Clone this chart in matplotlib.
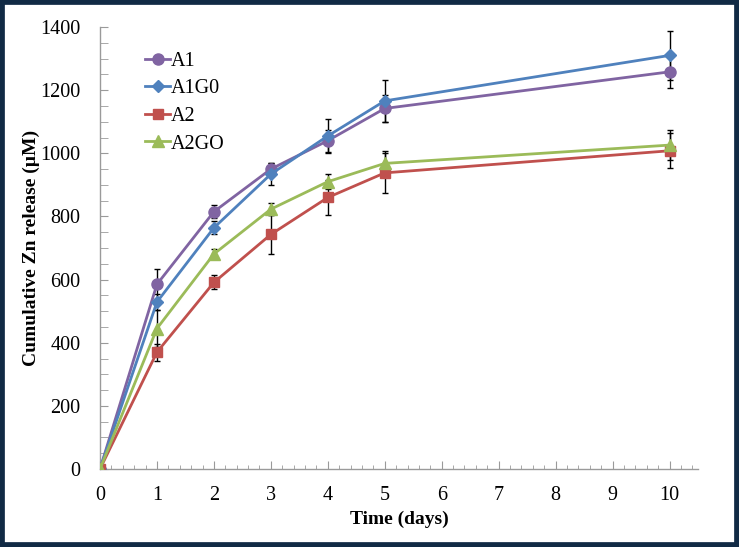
import matplotlib
matplotlib.use("Agg")
from matplotlib import pyplot as plt
from matplotlib.patches import Rectangle
from matplotlib.ticker import MultipleLocator

days = [0, 1, 2, 3, 4, 5, 10]
series_names = ['A1', 'A1G0', 'A2', 'A2GO']
a1 = [0, 585, 815, 950, 1040, 1142, 1258]
a1g0 = [0, 529, 764, 934, 1055, 1166, 1310]
a2 = [0, 370, 591, 743, 860, 938, 1008]
a2go = [0, 445, 681, 823, 910, 968, 1026]
a1_err = [0, 47, 20, 20, 35, 42, 50]
a1g0_err = [0, 25, 20, 35, 53, 67, 78]
a2_err = [0, 27, 22, 63, 56, 63, 55]
a2go_err = [0, 60, 15, 20, 23, 38, 48]

colors = ['#8064A2', '#4F81BD', '#C0504D', '#9BBB59']
markers = ['o', 'D', 's', '^']
msizes = [8, 6.5, 7.5, 8]

plt.rcParams['font.family'] = ['Liberation Serif', 'DejaVu Serif']

fig = plt.figure(figsize=(7.39, 5.47), dpi=100)
fig.patch.set_facecolor('white')
# dark frame round the picture
fig.patches.append(Rectangle((0, 0), 1, 1, transform=fig.transFigure, fill=False,
                             edgecolor='#112a45', linewidth=7, zorder=10))

ax = fig.add_axes([0.1353, 0.1426, 0.8092, 0.808])

all_vals = [a1, a1g0, a2, a2go]
all_errs = [a1_err, a1g0_err, a2_err, a2go_err]
for name, vals, errs, c, m, ms in zip(series_names, all_vals, all_errs, colors, markers, msizes):
    ax.errorbar(days, vals, yerr=errs, fmt='none', ecolor='black', elinewidth=1,
                capsize=2.5, capthick=1, zorder=2)
    ax.plot(days, vals, color=c, marker=m, markersize=ms, linewidth=2, label=name, zorder=3)

ax.set_xlim(0, 10.5)
ax.set_ylim(0, 1400)
ax.xaxis.set_major_locator(MultipleLocator(1))
ax.xaxis.set_minor_locator(MultipleLocator(0.2))
ax.yaxis.set_major_locator(MultipleLocator(200))
ax.yaxis.set_minor_locator(MultipleLocator(50))

for s in ['top', 'right']:
    ax.spines[s].set_visible(False)
for s in ['left', 'bottom']:
    ax.spines[s].set_color('#9a9a9a')
    ax.spines[s].set_linewidth(1)

ax.tick_params(axis='x', which='major', direction='in', length=6, color='#9a9a9a',
               labelsize=14.5, pad=12)
ax.tick_params(axis='x', which='minor', direction='in', length=3, color='#9a9a9a')
ax.tick_params(axis='y', which='both', direction='in', length=6, color='#9a9a9a',
               labelsize=14.5, pad=14)

ax.set_xlabel('Time (days)', fontsize=14, fontweight='bold', labelpad=4)
ax.set_ylabel('Cumulative Zn release (\u00b5M)', fontsize=14, fontweight='bold', labelpad=0)

leg = ax.legend(loc='upper left', bbox_to_anchor=(0.045, 0.985), frameon=False,
                fontsize=14.5, handlelength=1.25, handletextpad=0.05, labelspacing=0.42)

fig.savefig('out.png', dpi=100)
